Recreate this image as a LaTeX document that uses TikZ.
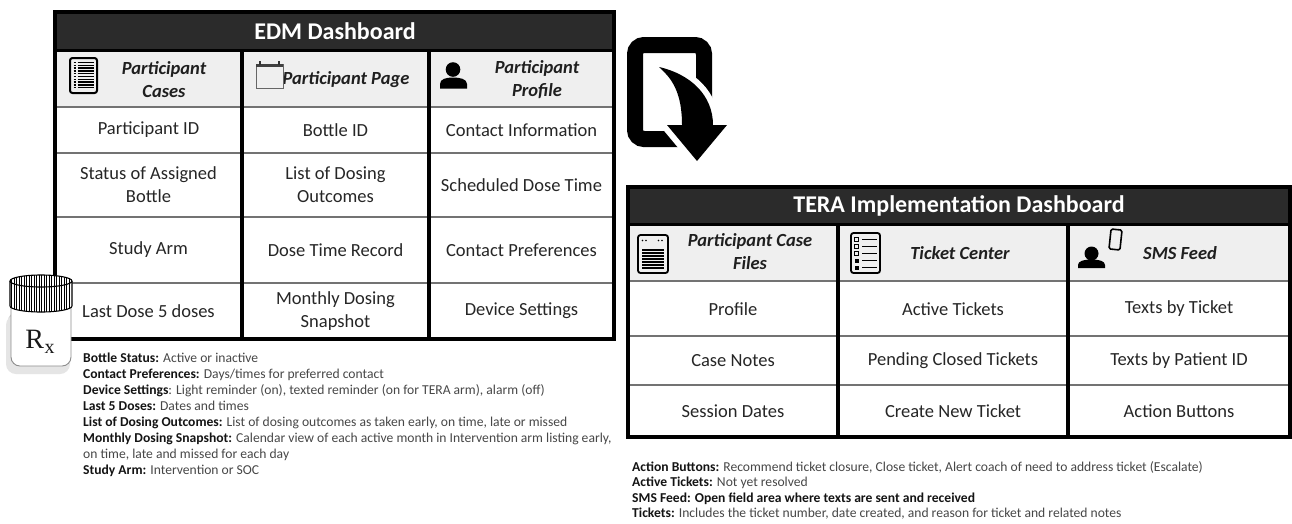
\documentclass[tikz,border=0pt]{standalone}
\usepackage{fontspec}
\setmainfont{Carlito}
\newfontfamily\rxfont{Liberation Serif}
\newcommand\notelabel[1]{{\color{black!92}\bfseries #1}}
\definecolor{hdrfill}{HTML}{2B2B2B}
\definecolor{subfill}{HTML}{EFEFEF}
\begin{document}
\begin{tikzpicture}[x=1pt,y=-1pt,
  hdrtext/.style={text=white,font=\fontsize{24}{28}\selectfont\bfseries,inner sep=0},
  subtext/.style={text=black!88,font=\fontsize{18.5}{23}\selectfont\bfseries\itshape,align=center,inner sep=0},
  celltext/.style={text=black!85,font=\fontsize{18.5}{23}\selectfont,align=center,inner sep=0},
  notetext/.style={text=black!72,font=\fontsize{13.6}{15.9}\selectfont,anchor=base west,inner sep=0},
  tblframe/.style={draw=black,line width=3.5pt},
  hdrline/.style={draw=black,line width=3pt},
  coldiv/.style={draw=black,line width=3.2pt},
  rowdiv/.style={draw=black!55,line width=2.4pt},
]
\useasboundingbox (0,0) rectangle (1292,523);
\fill[white] (0,0) rectangle (1292,523);

% ---------------- EDM dashboard table ----------------
\fill[hdrfill] (55,12) rectangle (614,50);
\fill[subfill] (55,50) rectangle (614,107);
\foreach \yy in {107,153,217,283} \draw[rowdiv] (55,\yy) -- (614,\yy);
\draw[hdrline] (55,50) -- (614,50);
\foreach \xx in {242,429} \draw[coldiv] (\xx,50) -- (\xx,339);
\draw[tblframe] (55,12) rectangle (614,339);

\node[hdrtext] (edmtitle) at (335,31) {EDM Dashboard};
\node[subtext] (edmsub1) at (164,80) {Participant\\Cases};
\node[subtext] (edmsub2) at (346,80) {Participant Page};
\node[subtext] (edmsub3) at (537,80) {Participant\\Profile};

\node[celltext] (edm11) at (148.5,130) {Participant ID};
\node[celltext] (edm12) at (335.5,130) {Bottle ID};
\node[celltext] (edm13) at (521.5,130) {Contact Information};
\node[celltext] (edm21) at (148.5,185) {Status of Assigned\\Bottle};
\node[celltext] (edm22) at (335.5,185) {List of Dosing\\Outcomes};
\node[celltext] (edm23) at (521.5,185) {Scheduled Dose Time};
\node[celltext] (edm31) at (148.5,250) {Study Arm};
\node[celltext] (edm32) at (335.5,250) {Dose Time Record};
\node[celltext] (edm33) at (521.5,250) {Contact Preferences};
\node[celltext] (edm41) at (148.5,311) {Last Dose 5 doses};
\node[celltext] (edm42) at (335.5,311) {Monthly Dosing\\Snapshot};
\node[celltext] (edm43) at (521.5,311) {Device Settings};

% list icon
\draw[line width=2pt,rounded corners=2.5pt] (70,58) rectangle (97,93);
\foreach \yy in {62.5,65.3,...,90} {
  \draw[line width=1.5pt] (73.5,\yy) -- (75.5,\yy);
  \draw[line width=1.5pt] (77.5,\yy) -- (94,\yy);
}
% calendar icon
\draw[black!60,line width=0.9pt] (256,64) rectangle (283,88);
\fill[black!75] (256,63.5) rectangle (283,66.5);
\fill[black!80] (259,60.5) rectangle (261,64.5);
\fill[black!80] (278,60.5) rectangle (280,64.5);
% person icon
\fill (453,69.5) circle[radius=7.3];
\fill (440,88.5) -- (440,84) .. controls (440,79) and (446,77.5) .. (453,77.5)
      .. controls (460,77.5) and (467,79) .. (467,84) -- (467,88.5) -- cycle;

% ---------------- transfer arrow ----------------
\draw[line width=16pt,rounded corners=9pt] (635,45) rectangle (704,139);
\path[fill=white,draw=white,line width=12pt,line join=round]
  (659,67) .. controls (690,74) and (713,95) .. (713,125) -- (727,125) -- (697,161)
  -- (667,125) -- (682,125) .. controls (682,100) and (676,83) .. (663,71) -- cycle;
\fill[black]
  (659,67) .. controls (690,74) and (713,95) .. (713,125) -- (727,125) -- (697,161)
  -- (667,125) -- (682,125) .. controls (682,100) and (676,83) .. (663,71) -- cycle;

% ---------------- TERA implementation table ----------------
\fill[hdrfill] (628,187) rectangle (1290,224);
\fill[subfill] (628,224) rectangle (1290,281);
\foreach \yy in {281,336,385} \draw[rowdiv] (628,\yy) -- (1290,\yy);
\draw[hdrline] (628,224) -- (1290,224);
\foreach \xx in {838,1068} \draw[coldiv] (\xx,224) -- (\xx,437);
\draw[tblframe] (628,187) rectangle (1290,437);

\node[hdrtext] (teratitle) at (959,206) {TERA Implementation Dashboard};
\node[subtext] (terasub1) at (750,252) {Participant Case\\Files};
\node[subtext] (terasub2) at (960,253) {Ticket Center};
\node[subtext] (terasub3) at (1180,253) {SMS Feed};

\node[celltext] (tera11) at (733,309) {Profile};
\node[celltext] (tera12) at (953,309) {Active Tickets};
\node[celltext] (tera13) at (1179,309) {Texts by Ticket};
\node[celltext] (tera21) at (733,361) {Case Notes};
\node[celltext] (tera22) at (953,361) {Pending Closed Tickets};
\node[celltext] (tera23) at (1179,361) {Texts by Patient ID};
\node[celltext] (tera31) at (733,411) {Session Dates};
\node[celltext] (tera32) at (953,411) {Create New Ticket};
\node[celltext] (tera33) at (1179,411) {Action Buttons};

% case file icon
\draw[line width=1.8pt,rounded corners=2.5pt] (638,235) rectangle (668,273);
\foreach \xx in {642.5,646,658.5,662} \fill (\xx,240.5) circle[radius=0.9];
\foreach \yy in {250,253,256,259,262,265,268} \draw[line width=1.3pt] (642,\yy) -- (664,\yy);
% ticket checklist icon
\draw[line width=1.8pt,rounded corners=2.5pt] (851,233) rectangle (880,273);
\foreach \yy in {239.5,246.5,253.5} {
  \draw[line width=0.8pt] (854.5,\yy-1.8) rectangle (858.5,\yy+1.8);
  \draw[line width=1.5pt] (862,\yy) -- (877,\yy);
}
\foreach \yy in {260.5,267.5} {
  \fill (854.5,\yy-2) rectangle (858.5,\yy+2);
  \draw[line width=1.5pt] (862,\yy) -- (877,\yy);
}
% person with phone icon
\fill (1091.5,253.5) circle[radius=7];
\fill (1078,268) -- (1078,265) .. controls (1078,261) and (1084,259.5) .. (1091.5,259.5)
      .. controls (1099,259.5) and (1105,261) .. (1105,265) -- (1105,268) -- cycle;
\draw[line width=1.6pt,rounded corners=1.5pt,rotate around={-6:(1115.5,239.5)}] (1110,229.5) rectangle (1121,249.5);

% ---------------- prescription bottle ----------------
\fill[black!18,rounded corners=9pt] (8,312) -- (8,371) -- (68,371) -- (68,312) -- cycle;
\fill[black!10,rounded corners=10pt] (6,315) -- (6,374) -- (70,374) -- (70,315) -- cycle;
\draw[black!45,fill=white,line width=0.9pt,rounded corners=9pt]
  (11,300) -- (11,366) -- (71,366) -- (71,300);
\fill[white] (10,281) arc[start angle=180,end angle=360,x radius=31,y radius=6]
  -- (72,306) arc[start angle=0,end angle=180,x radius=31,y radius=6] -- cycle;
\begin{scope}
  \clip (10,281) arc[start angle=180,end angle=360,x radius=31,y radius=6]
    -- (72,306) arc[start angle=0,end angle=180,x radius=31,y radius=6] -- cycle;
  \foreach \xx in {11.5,14,...,71} \draw[line width=0.8pt] (\xx,272) -- (\xx,314);
\end{scope}
\draw[line width=1.1pt] (41,281) ellipse[x radius=31,y radius=6];
\draw[line width=1.1pt] (10,281) -- (10,306) arc[start angle=180,end angle=0,x radius=31,y radius=6] -- (72,281);
\node[inner sep=0,text=black!90] (rxmark) at (40,342)
  {\rxfont\fontsize{28}{28}\selectfont R\kern0.02em\raisebox{-0.35ex}{\fontsize{20}{20}\selectfont x}};

% ---------------- notes ----------------
\foreach \t [count=\i] in {
  {\notelabel{Bottle Status:} Active or inactive},
  {\notelabel{Contact Preferences:} Days/times for preferred contact},
  {\notelabel{Device Settings}: Light reminder (on), texted reminder (on for TERA arm), alarm (off)},
  {\notelabel{Last 5 Doses:} Dates and times},
  {\notelabel{List of Dosing Outcomes:} List of dosing outcomes as taken early, on time, late or missed},
  {\notelabel{Monthly Dosing Snapshot:} Calendar view of each active month in Intervention arm listing early,},
  {on time, late and missed for each day},
  {\notelabel{Study Arm:} Intervention or SOC}}
  \node[notetext] (edmnote\i) at (83,{362+16.1*(\i-1)}) {\t};

\foreach \t [count=\i] in {
  {\notelabel{Action Buttons:} Recommend ticket closure, Close ticket, Alert coach of need to address ticket (Escalate)},
  {\notelabel{Active Tickets:} Not yet resolved},
  {\notelabel{SMS Feed: Open field area where texts are sent and received}},
  {\notelabel{Tickets:} Includes the ticket number, date created, and reason for ticket and related notes}}
  \node[notetext] (teranote\i) at (632,{471+15.6*(\i-1)}) {\t};
\end{tikzpicture}
\end{document}
